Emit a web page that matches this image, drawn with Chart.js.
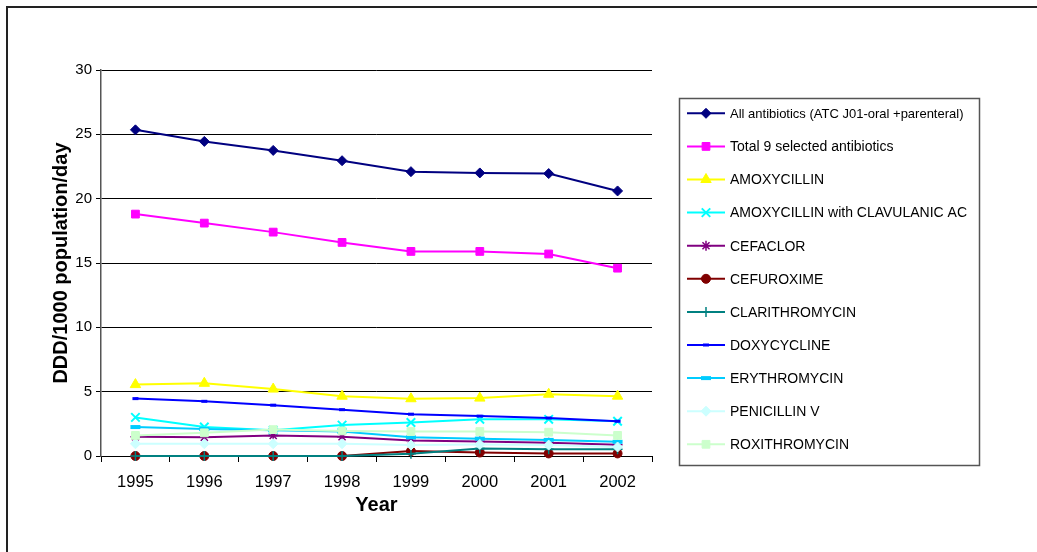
<!DOCTYPE html>
<html>
<head>
<meta charset="utf-8">
<script src="https://cdn.jsdelivr.net/npm/chart.js@4"></script>
<style>
  html, body { margin: 0; padding: 0; background: #fff; }
  canvas { display: block; }
</style>
</head>
<body>
<canvas id="chart" width="1037" height="552"></canvas>
<script>
// Antibiotic consumption, DDD per 1000 inhabitants per day, 1995-2002
const years = ['1995', '1996', '1997', '1998', '1999', '2000', '2001', '2002'];

const allAntibiotics   = [25.35, 24.45, 23.75, 22.95, 22.1, 22.0, 21.95, 20.6];
const totalSelected    = [18.8, 18.1, 17.4, 16.6, 15.9, 15.9, 15.7, 14.6];
const amoxycillin      = [5.55, 5.65, 5.2, 4.65, 4.45, 4.5, 4.8, 4.65];
const amoxyClavulanic  = [3.0, 2.25, 2.0, 2.4, 2.6, 2.85, 2.85, 2.7];
const cefaclor         = [1.5, 1.45, 1.6, 1.5, 1.2, 1.12, 1.03, 0.87];
const cefuroxime       = [0, 0, 0, 0, 0.38, 0.27, 0.2, 0.2];
const clarithromycin   = [0, 0, 0, 0, 0.18, 0.58, 0.52, 0.52];
const doxycycline      = [4.46, 4.25, 3.95, 3.6, 3.25, 3.1, 2.95, 2.7];
const erythromycin     = [2.25, 2.1, 2.0, 1.9, 1.45, 1.35, 1.25, 1.1];
const penicillinV      = [0.95, 0.95, 0.95, 0.95, 0.85, 0.9, 0.85, 0.7];
const roxithromycin    = [1.6, 1.8, 2.05, 1.95, 1.9, 1.9, 1.85, 1.6];

const yTicks = [0, 5, 10, 15, 20, 25, 30];

const FONT = "'Liberation Sans', Arial, sans-serif";

const seriesDefs = [
  { label: 'All antibiotics (ATC J01-oral +parenteral)', data: allAntibiotics,  color: '#000080', style: 'rectRot',  radius: 5,   pbw: 1, legendFont: 13 },
  { label: 'Total 9 selected antibiotics',               data: totalSelected,   color: '#FF00FF', style: 'rect',     radius: 5.5, pbw: 1 },
  { label: 'AMOXYCILLIN',                                data: amoxycillin,     color: '#FFFF00', style: 'triangle', radius: 6,   pbw: 1 },
  { label: 'AMOXYCILLIN with CLAVULANIC AC',             data: amoxyClavulanic, color: '#00FFFF', style: 'crossRot', radius: 6,   pbw: 2 },
  { label: 'CEFACLOR',                                   data: cefaclor,        color: '#800080', style: 'star',     radius: 5,   pbw: 1.5 },
  { label: 'CEFUROXIME',                                 data: cefuroxime,      color: '#800000', style: 'circle',   radius: 4.5, pbw: 1 },
  { label: 'CLARITHROMYCIN',                             data: clarithromycin,  color: '#008080', style: 'cross',    radius: 5,   pbw: 1.5 },
  { label: 'DOXYCYCLINE',                                data: doxycycline,     color: '#0000FF', style: 'line',     radius: 3,   pbw: 3 },
  { label: 'ERYTHROMYCIN',                               data: erythromycin,    color: '#00CCFF', style: 'line',     radius: 5,   pbw: 4 },
  { label: 'PENICILLIN V',                               data: penicillinV,     color: '#CCFFFF', style: 'rectRot',  radius: 5,   pbw: 1 },
  { label: 'ROXITHROMYCIN',                              data: roxithromycin,   color: '#CCFFCC', style: 'rect',     radius: 5.5, pbw: 1 }
];

const datasets = seriesDefs.map((s, i) => ({
  label: s.label,
  data: s.data,
  borderColor: s.color,
  backgroundColor: s.color,
  borderWidth: 2,
  tension: 0,
  pointStyle: s.style,
  pointRadius: s.radius,
  pointHoverRadius: s.radius,
  pointBackgroundColor: s.color,
  pointBorderColor: s.color,
  pointBorderWidth: s.pbw,
  clip: false,
  order: seriesDefs.length - i
}));

// Boxed legend on the right, plus the frame around the whole figure
const sideLegend = {
  id: 'sideLegend',
  afterDraw(chart) {
    const ctx = chart.ctx;
    ctx.save();
    // frame (top and left edges)
    ctx.fillStyle = '#222';
    ctx.fillRect(6, 6, 1031, 2);
    ctx.fillRect(6, 6, 2, 546);

    // legend box
    const bx = 679.5, by = 98.5, bw = 300, bh = 367;
    ctx.fillStyle = '#fff';
    ctx.fillRect(bx, by, bw, bh);
    ctx.strokeStyle = '#555';
    ctx.lineWidth = 1.5;
    ctx.strokeRect(bx, by, bw, bh);

    const y0 = 113.3, step = 33.1;
    seriesDefs.forEach((s, i) => {
      const y = y0 + i * step;
      ctx.strokeStyle = s.color;
      ctx.lineWidth = 2;
      ctx.beginPath();
      ctx.moveTo(687, y);
      ctx.lineTo(725, y);
      ctx.stroke();

      ctx.fillStyle = s.color;
      ctx.strokeStyle = s.color;
      ctx.lineWidth = s.pbw;
      if (Chart.helpers && Chart.helpers.drawPoint) {
        Chart.helpers.drawPoint(ctx, {
          pointStyle: s.style, radius: s.radius, rotation: 0, borderWidth: s.pbw
        }, 706, y);
      }

      ctx.fillStyle = '#000';
      ctx.font = (s.legendFont || 14) + 'px ' + FONT;
      ctx.textAlign = 'left';
      ctx.textBaseline = 'middle';
      ctx.fillText(s.label, 730, y + 1);
    });
    ctx.restore();
  }
};

new Chart(document.getElementById('chart'), {
  type: 'line',
  data: { labels: years, datasets },
  options: {
    responsive: false,
    animation: false,
    devicePixelRatio: 1,
    layout: { padding: { left: 0, top: 70, right: 385, bottom: 0 } },
    plugins: {
      legend: { display: false },
      tooltip: { enabled: false },
      title: { display: false }
    },
    scales: {
      x: {
        type: 'category',
        offset: true,
        afterFit(scale) { scale.height = 96; },
        grid: {
          offset: true,
          drawOnChartArea: false,
          drawTicks: true,
          tickLength: 6,
          color: '#000',
          lineWidth: 1
        },
        border: { display: true, color: '#000', width: 1 },
        ticks: {
          color: '#000',
          font: { family: FONT, size: 16.5 },
          padding: 11,
          maxRotation: 0
        },
        title: {
          display: true,
          text: 'Year',
          color: '#000',
          font: { family: FONT, size: 20, weight: 'bold', lineHeight: 1 },
          padding: { top: 0, bottom: 37 }
        }
      },
      y: {
        min: 0,
        max: 30,
        afterFit(scale) { scale.width = 101; },
        afterBuildTicks(scale) { scale.ticks = yTicks.map(v => ({ value: v })); },
        grid: {
          color: '#000',
          lineWidth: 1,
          drawTicks: true,
          tickLength: 5
        },
        border: { display: true, color: '#555', width: 1.5 },
        ticks: {
          color: '#000',
          font: { family: FONT, size: 15 },
          padding: 4
        },
        title: {
          display: true,
          text: 'DDD/1000 population/day',
          color: '#000',
          font: { family: FONT, size: 20, weight: 'bold', lineHeight: 1 },
          padding: { top: 51, bottom: 0 }
        }
      }
    }
  },
  plugins: [sideLegend]
});
</script>
</body>
</html>
